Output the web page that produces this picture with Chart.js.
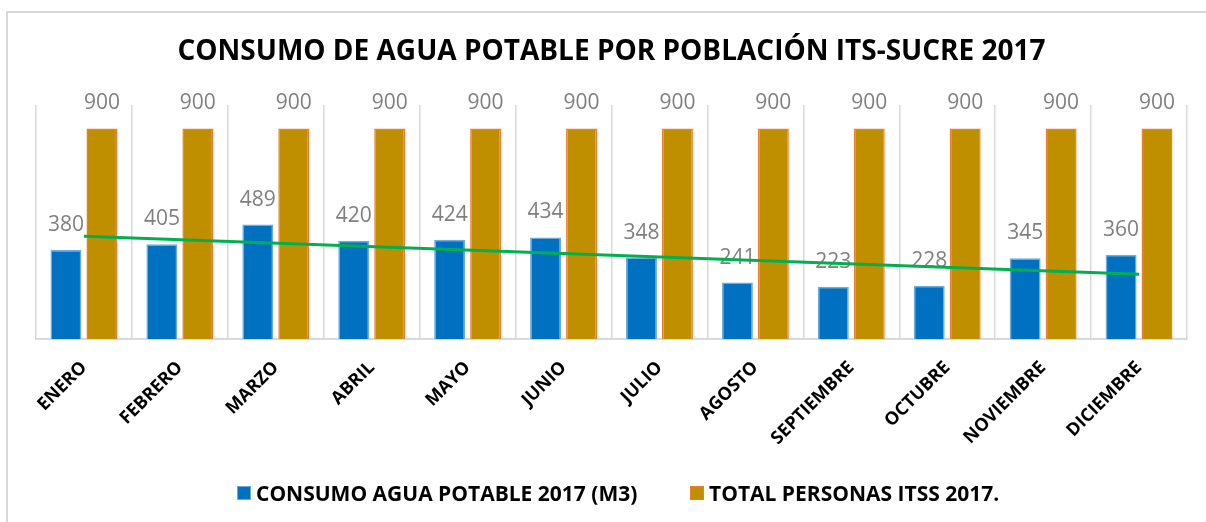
<!DOCTYPE html>
<html>
<head>
<meta charset="utf-8">
<script src="https://cdn.jsdelivr.net/npm/chart.js@4.4.1/dist/chart.umd.min.js"></script>
<style>
html,body{margin:0;padding:0;background:#fff;overflow:hidden}
#wrap{position:relative;width:1206px;height:522px}
#frame{position:absolute;left:6px;top:11px;width:1300px;height:600px;border:2px solid #d9d9d9;box-sizing:border-box}
#cv{position:absolute;left:0;top:0}
.item{position:absolute;top:479px;height:28px;display:flex;align-items:center;font:bold 21px "Open Sans",sans-serif;color:#000;white-space:nowrap}
.box{width:14px;height:14px;box-sizing:border-box;margin-right:5px}
</style>
</head>
<body>
<div id="wrap">
  <div id="frame"></div>
  <canvas id="cv" width="1206" height="522"></canvas>
  <div class="item" style="left:237px"><span class="box" style="background:#0070c0;border:1.5px solid #6fa8dc"></span><span id="lg0"></span></div>
  <div class="item" style="left:690px"><span class="box" style="background:#bf8f00;border:1.5px solid #ed7d31"></span><span id="lg1"></span></div>
</div>
<script>
const titleText = 'CONSUMO DE AGUA POTABLE POR POBLACIÓN ITS-SUCRE 2017';
const months = ['ENERO','FEBRERO','MARZO','ABRIL','MAYO','JUNIO','JULIO','AGOSTO','SEPTIEMBRE','OCTUBRE','NOVIEMBRE','DICIEMBRE'];
const seriesNames = ['CONSUMO AGUA POTABLE 2017 (M3)', 'TOTAL PERSONAS ITSS 2017.'];
const consumo = [380, 405, 489, 420, 424, 434, 348, 241, 223, 228, 345, 360];
const personas = [900, 900, 900, 900, 900, 900, 900, 900, 900, 900, 900, 900];
// trend line end values (linear trend of consumption)
const trendStart = 439;
const trendEnd = 277;
const trend = months.map((m, i) => i === 0 ? trendStart : (i === months.length - 1 ? trendEnd : null));

document.getElementById('lg0').textContent = seriesNames[0];
document.getElementById('lg1').textContent = seriesNames[1];

const barLabels = {
  id: 'barLabels',
  afterDatasetDraw(chart, args) {
    const ds = chart.data.datasets[args.index];
    if (ds.type === 'line') return;
    const ctx = chart.ctx;
    ctx.save();
    ctx.font = '21px "Open Sans"';
    ctx.fillStyle = '#7f7f7f';
    ctx.textAlign = 'center';
    ctx.textBaseline = 'middle';
    args.meta.data.forEach((el, i) => {
      ctx.fillText(String(ds.data[i]), el.x, el.y - 25);
    });
    ctx.restore();
  }
};

function build() {
  new Chart(document.getElementById('cv'), {
    type: 'bar',
    data: {
      labels: months,
      datasets: [
        {
          label: seriesNames[0], data: consumo, order: 1,
          backgroundColor: '#0070c0', borderColor: '#6fa8dc', borderWidth: 1.5,
          categoryPercentage: 0.75, barPercentage: 0.86
        },
        {
          label: seriesNames[1], data: personas, order: 1,
          backgroundColor: '#bf8f00', borderColor: '#ed7d31', borderWidth: 1.5,
          categoryPercentage: 0.75, barPercentage: 0.86
        },
        {
          type: 'line', label: 'Tendencia', data: trend, order: 0,
          borderColor: '#00b050', borderWidth: 3, pointRadius: 0, spanGaps: true, tension: 0, fill: false
        }
      ]
    },
    options: {
      responsive: false,
      animation: false,
      layout: { padding: { left: 36, right: 19, top: 0, bottom: 0 } },
      plugins: {
        legend: { display: false },
        tooltip: { enabled: false },
        title: {
          display: true, text: titleText, color: '#000',
          font: { family: 'Open Sans', size: 28, weight: 'bold', lineHeight: 1.2 },
          padding: { top: 35.2, bottom: 36.2 }
        }
      },
      scales: {
        x: {
          grid: { offset: true, color: '#d9d9d9', lineWidth: 1.5, drawTicks: false },
          border: { color: '#d9d9d9', width: 2 },
          ticks: {
            autoSkip: false, minRotation: 45, maxRotation: 45, padding: 18, color: '#000',
            font: { family: 'Open Sans', size: 18, weight: 'bold' }
          },
          afterFit(s) { s.height = 183; }
        },
        y: { display: false, min: 0, max: 1000 }
      }
    },
    plugins: [barLabels]
  });
}

Promise.all([
  document.fonts.load('bold 28px "Open Sans"'),
  document.fonts.load('21px "Open Sans"'),
  document.fonts.load('bold 18px "Open Sans"')
]).then(build, build);
</script>
</body>
</html>
